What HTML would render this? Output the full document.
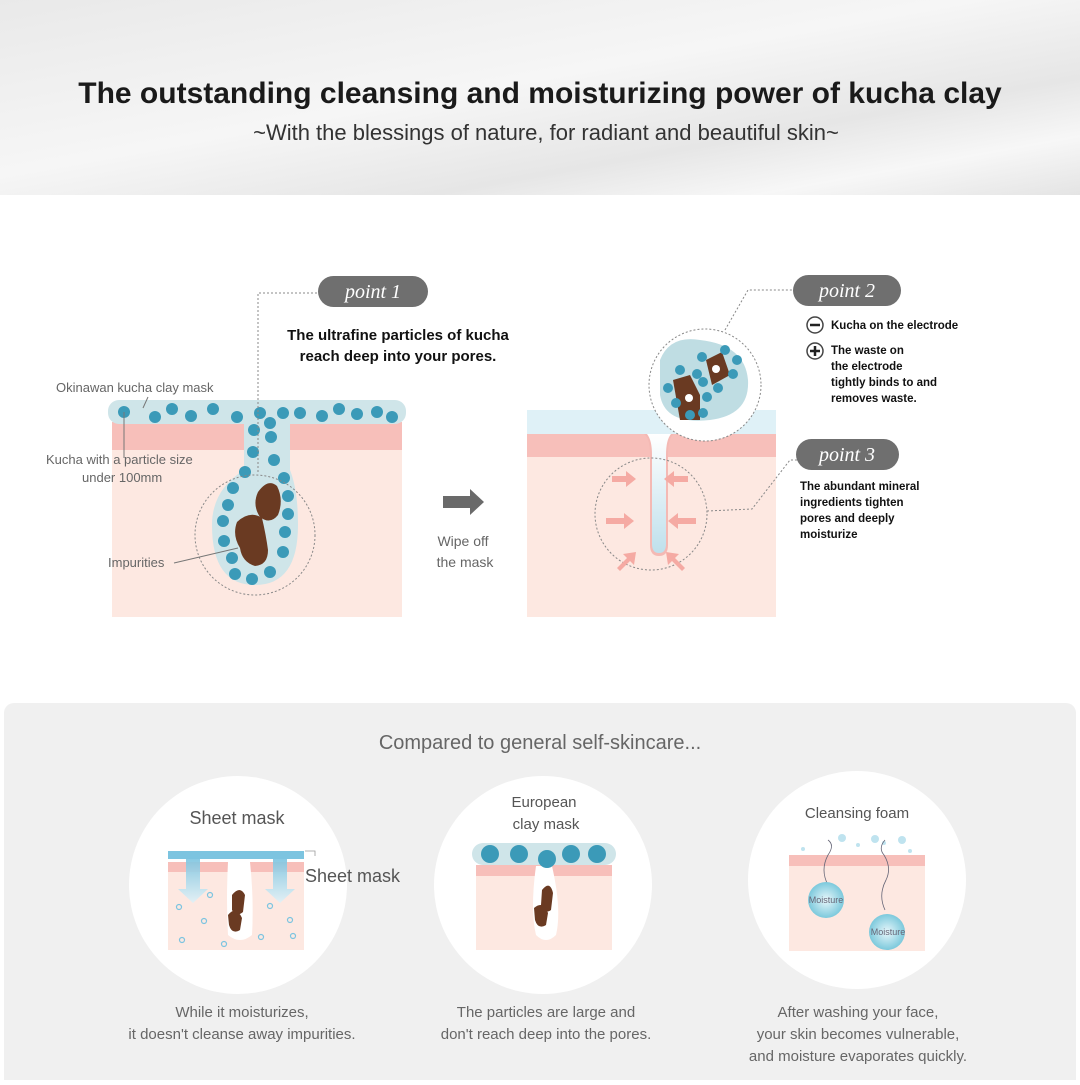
<!DOCTYPE html>
<html><head><meta charset="utf-8"><style>
body{margin:0;width:1080px;height:1080px;overflow:hidden;background:#fff;font-family:"Liberation Sans",sans-serif}
</style></head><body>
<svg width="1080" height="1080" viewBox="0 0 1080 1080" xmlns="http://www.w3.org/2000/svg" font-family="Liberation Sans, sans-serif">
<defs>
<linearGradient id="hd" x1="0" y1="0" x2="1" y2="1">
<stop offset="0" stop-color="#e9e9e9"/><stop offset="0.45" stop-color="#f6f6f6"/><stop offset="0.7" stop-color="#e6e6e6"/><stop offset="0.85" stop-color="#f7f7f7"/><stop offset="1" stop-color="#e4e4e4"/>
</linearGradient>
<linearGradient id="pore" x1="0" y1="0" x2="0" y2="1"><stop offset="0" stop-color="#ffffff"/><stop offset="1" stop-color="#bfe0ec"/></linearGradient>
<radialGradient id="drop"><stop offset="0" stop-color="#e8f7fb"/><stop offset="1" stop-color="#7cc9dc"/></radialGradient>
<linearGradient id="sheetArrow" x1="0" y1="0" x2="0" y2="1"><stop offset="0" stop-color="#7cc4e0"/><stop offset="1" stop-color="#e0f1f7"/></linearGradient>
</defs>
<rect width="1080" height="195" fill="url(#hd)"/>
<text x="540" y="103" text-anchor="middle" font-size="30" font-weight="bold" fill="#1a1a1a">The outstanding cleansing and moisturizing power of kucha clay</text>
<text x="546" y="140" text-anchor="middle" font-size="22" fill="#333">~With the blessings of nature, for radiant and beautiful skin~</text>

<!-- LEFT DIAGRAM -->
<rect x="112" y="422" width="290" height="195" fill="#fde8e1"/>
<rect x="112" y="422" width="290" height="28" fill="#f7bfba"/>
<rect x="108" y="400" width="298" height="24" rx="11" fill="#cfe5e9"/>
<path d="M244 420 L244 470 Q212 490 212 525 Q212 585 255 585 Q298 585 298 525 Q298 490 290 470 L290 420 Z" fill="#cfe5e9"/>
<g fill="#3b9ab8">
<circle cx="124" cy="412" r="6"/><circle cx="155" cy="417" r="6"/><circle cx="172" cy="409" r="6"/><circle cx="191" cy="416" r="6"/><circle cx="213" cy="409" r="6"/><circle cx="237" cy="417" r="6"/><circle cx="260" cy="413" r="6"/><circle cx="283" cy="413" r="6"/><circle cx="300" cy="413" r="6"/><circle cx="322" cy="416" r="6"/><circle cx="339" cy="409" r="6"/><circle cx="357" cy="414" r="6"/><circle cx="377" cy="412" r="6"/><circle cx="392" cy="417" r="6"/>
<circle cx="270" cy="423" r="6"/><circle cx="254" cy="430" r="6"/><circle cx="271" cy="437" r="6"/><circle cx="253" cy="452" r="6"/><circle cx="274" cy="460" r="6"/><circle cx="245" cy="472" r="6"/><circle cx="284" cy="478" r="6"/><circle cx="233" cy="488" r="6"/><circle cx="288" cy="496" r="6"/><circle cx="228" cy="505" r="6"/><circle cx="288" cy="514" r="6"/><circle cx="223" cy="521" r="6"/><circle cx="285" cy="532" r="6"/><circle cx="224" cy="541" r="6"/><circle cx="283" cy="552" r="6"/><circle cx="232" cy="558" r="6"/><circle cx="235" cy="574" r="6"/><circle cx="252" cy="579" r="6"/><circle cx="270" cy="572" r="6"/>
</g>
<path d="M258 492 Q268 478 277 486 Q284 500 278 515 Q270 525 260 517 Q252 505 258 492Z" fill="#6a3a22"/>
<path d="M237 522 Q250 510 262 518 Q266 535 268 550 Q268 565 255 566 Q242 562 240 548 Q232 535 237 522Z" fill="#6a3a22"/>
<circle cx="255" cy="535" r="60" fill="none" stroke="#888" stroke-dasharray="2,2"/>
<path d="M258 472 L258 293 L320 293" fill="none" stroke="#888" stroke-dasharray="2,2"/>
<path d="M124 412 L124 458" stroke="#777" stroke-width="1"/>
<path d="M148 397 L143 408" stroke="#777"/>
<path d="M174 563 L238 548" stroke="#777"/>
<text x="56" y="392" font-size="13" fill="#666">Okinawan kucha clay mask</text>
<text x="46" y="464" font-size="13" fill="#666">Kucha with a particle size</text>
<text x="82" y="482" font-size="13" fill="#666">under 100mm</text>
<text x="108" y="567" font-size="13" fill="#666">Impurities</text>
<rect x="318" y="276" width="110" height="31" rx="15.5" fill="#6f6f6f"/>
<text x="373" y="298" text-anchor="middle" font-size="20" font-style="italic" fill="#fff" font-family="Liberation Serif, serif">point 1</text>
<text x="398" y="340" text-anchor="middle" font-size="15" font-weight="bold" fill="#111">The ultrafine particles of kucha</text>
<text x="398" y="361" text-anchor="middle" font-size="15" font-weight="bold" fill="#111">reach deep into your pores.</text>

<!-- arrow -->
<path d="M443 496 L470 496 L470 489 L484 502 L470 515 L470 508 L443 508Z" fill="#6a6a6a"/>
<text x="463" y="546" text-anchor="middle" font-size="14" fill="#666">Wipe off</text>
<text x="465" y="567" text-anchor="middle" font-size="14" fill="#666">the mask</text>

<!-- RIGHT DIAGRAM -->
<rect x="527" y="410" width="249" height="24" fill="#dff1f7"/>
<rect x="527" y="434" width="249" height="183" fill="#fde8e1"/>
<rect x="527" y="434" width="249" height="23" fill="#f7bfba"/>
<path d="M644 434 Q650 438 650 455 L650 545 Q650 556 659 556 Q668 556 668 545 L668 455 Q668 438 674 434Z" fill="#f4b9b4"/>
<path d="M647 434 Q652 440 652 455 L652 544 Q652 553 659 553 Q666 553 666 544 L666 455 Q666 440 671 434Z" fill="url(#pore)"/>
<circle cx="651" cy="514" r="56" fill="none" stroke="#888" stroke-dasharray="2,2"/>
<g fill="#f5aaa3">
<path d="M612 476 h14 v-5 l10 8 l-10 8 v-5 h-14z"/>
<path d="M688 476 h-14 v-5 l-10 8 l10 8 v-5 h14z"/>
<path d="M606 518 h18 v-5 l10 8 l-10 8 v-5 h-18z"/>
<path d="M696 518 h-18 v-5 l-10 8 l10 8 v-5 h18z"/>
<path d="M617 568 l10 -10 l-4 -4 l13 -2 l-2 13 l-4 -4 l-10 10z"/>
<path d="M685 568 l-10 -10 l4 -4 l-13 -2 l2 13 l4 -4 l10 10z"/>
</g>
<circle cx="705" cy="385" r="56" fill="#fff" stroke="#888" stroke-dasharray="2,2"/>
<path d="M660 360 Q670 335 700 340 Q745 345 748 380 Q750 415 710 420 Q665 425 660 395Z" fill="#bfdde3"/>
<path d="M673 380 L690 375 L700 395 L700 420 L680 420Z" fill="#6a3a22"/>
<path d="M706 360 L722 352 L730 375 L712 385Z" fill="#6a3a22"/>
<g fill="#3b9ab8">
<circle cx="680" cy="370" r="5"/><circle cx="668" cy="388" r="5"/><circle cx="676" cy="403" r="5"/><circle cx="690" cy="415" r="5"/><circle cx="703" cy="413" r="5"/><circle cx="707" cy="397" r="5"/><circle cx="703" cy="382" r="5"/><circle cx="697" cy="374" r="5"/><circle cx="702" cy="357" r="5"/><circle cx="725" cy="350" r="5"/><circle cx="733" cy="374" r="5"/><circle cx="737" cy="360" r="5"/><circle cx="718" cy="388" r="5"/>
</g>
<circle cx="689" cy="398" r="4" fill="#fff"/><circle cx="716" cy="369" r="4" fill="#fff"/>
<path d="M725 330 L748 290 L795 290" fill="none" stroke="#888" stroke-dasharray="2,2"/>
<path d="M707 511 L752 509 L790 460 L800 460" fill="none" stroke="#888" stroke-dasharray="2,2"/>
<rect x="793" y="275" width="108" height="31" rx="15.5" fill="#6f6f6f"/>
<text x="847" y="297" text-anchor="middle" font-size="20" font-style="italic" fill="#fff" font-family="Liberation Serif, serif">point 2</text>
<circle cx="815" cy="325" r="8" fill="#fff" stroke="#444" stroke-width="1.5"/><path d="M810 325h10" stroke="#222" stroke-width="2.5"/>
<circle cx="815" cy="351" r="8" fill="#fff" stroke="#444" stroke-width="1.5"/><path d="M810 351h10M815 346v10" stroke="#222" stroke-width="2.5"/>
<g font-size="11.5" font-weight="bold" fill="#111">
<text x="831" y="329">Kucha on the electrode</text>
<text x="831" y="354">The waste on</text>
<text x="831" y="370">the electrode</text>
<text x="831" y="386">tightly binds to and</text>
<text x="831" y="402">removes waste.</text>
</g>
<rect x="796" y="439" width="103" height="31" rx="15.5" fill="#6f6f6f"/>
<text x="847" y="461" text-anchor="middle" font-size="20" font-style="italic" fill="#fff" font-family="Liberation Serif, serif">point 3</text>
<g font-size="11.5" font-weight="bold" fill="#111">
<text x="800" y="490">The abundant mineral</text>
<text x="800" y="506">ingredients tighten</text>
<text x="800" y="522">pores and deeply</text>
<text x="800" y="538">moisturize</text>
</g>

<!-- BOTTOM PANEL -->
<rect x="4" y="703" width="1072" height="390" rx="10" fill="#f0f0f0"/>
<text x="540" y="749" text-anchor="middle" font-size="20" fill="#666">Compared to general self-skincare...</text>
<circle cx="238" cy="885" r="109" fill="#fff"/>
<circle cx="543" cy="885" r="109" fill="#fff"/>
<circle cx="857" cy="880" r="109" fill="#fff"/>
<!-- sheet mask -->
<text x="237" y="824" text-anchor="middle" font-size="18" fill="#555">Sheet mask</text>
<rect x="168" y="862" width="136" height="88" fill="#fde8e1"/>
<rect x="168" y="862" width="136" height="10" fill="#f7bfba"/>
<rect x="168" y="851" width="136" height="8" fill="#7cc4e0"/>
<path d="M228 862 Q226 900 228 935 Q240 945 252 935 Q254 900 250 862Z" fill="#fff"/>
<path d="M232 895 Q240 885 245 895 L243 912 Q236 918 232 910Z M228 915 Q236 905 242 918 L240 930 Q232 935 229 925Z" fill="#6a3a22"/>
<path d="M186 859 h14 v30 h8 l-15 14 l-15 -14 h8z" fill="url(#sheetArrow)" opacity="0.9"/>
<path d="M273 859 h14 v30 h8 l-15 14 l-15 -14 h8z" fill="url(#sheetArrow)" opacity="0.9"/>
<g fill="none" stroke="#7cc4e0" stroke-width="1.2">
<circle cx="179" cy="907" r="2.5"/><circle cx="204" cy="921" r="2.5"/><circle cx="210" cy="895" r="2.5"/><circle cx="182" cy="940" r="2.5"/><circle cx="224" cy="944" r="2.5"/><circle cx="261" cy="937" r="2.5"/><circle cx="290" cy="920" r="2.5"/><circle cx="293" cy="936" r="2.5"/><circle cx="270" cy="906" r="2.5"/>
</g>
<path d="M305 851 h10 v5" fill="none" stroke="#999" stroke-width="0.8"/>
<text x="305" y="882" font-size="18" fill="#555">Sheet mask</text>
<text x="242" y="1017" text-anchor="middle" font-size="15" fill="#666">While it moisturizes,</text>
<text x="242" y="1039" text-anchor="middle" font-size="15" fill="#666">it doesn't cleanse away impurities.</text>
<!-- european -->
<text x="544" y="807" text-anchor="middle" font-size="15" fill="#555">European</text>
<text x="546" y="829" text-anchor="middle" font-size="15" fill="#555">clay mask</text>
<rect x="476" y="865" width="136" height="85" fill="#fde8e1"/>
<rect x="476" y="865" width="136" height="11" fill="#f7bfba"/>
<rect x="472" y="843" width="144" height="22" rx="11" fill="#cfe5e9"/>
<path d="M536 866 Q530 910 536 935 Q546 945 556 935 Q562 910 552 866Z" fill="#fff"/>
<g fill="#3b9ab8"><circle cx="490" cy="854" r="9"/><circle cx="519" cy="854" r="9"/><circle cx="547" cy="859" r="9"/><circle cx="571" cy="854" r="9"/><circle cx="597" cy="854" r="9"/></g>
<path d="M542 890 Q550 880 553 893 L551 910 Q544 915 541 905Z M534 908 Q543 900 548 913 L546 925 Q538 930 535 920Z" fill="#6a3a22"/>
<text x="546" y="1017" text-anchor="middle" font-size="15" fill="#666">The particles are large and</text>
<text x="546" y="1039" text-anchor="middle" font-size="15" fill="#666">don't reach deep into the pores.</text>
<!-- foam -->
<text x="857" y="818" text-anchor="middle" font-size="15" fill="#555">Cleansing foam</text>
<rect x="789" y="855" width="136" height="96" fill="#fde8e1"/>
<rect x="789" y="855" width="136" height="11" fill="#f7bfba"/>
<g fill="#bfe3ef"><circle cx="842" cy="838" r="4"/><circle cx="875" cy="839" r="4"/><circle cx="902" cy="840" r="4"/><circle cx="803" cy="849" r="2"/><circle cx="858" cy="845" r="2"/><circle cx="884" cy="843" r="2"/><circle cx="910" cy="851" r="2"/></g>
<path d="M828 885 Q820 870 828 855 Q835 845 828 840" fill="none" stroke="#667" stroke-width="0.8"/>
<path d="M885 910 Q878 895 886 880 Q892 868 884 855 Q878 848 885 840" fill="none" stroke="#667" stroke-width="0.8"/>
<circle cx="826" cy="900" r="18" fill="url(#drop)"/>
<circle cx="887" cy="932" r="18" fill="url(#drop)"/>
<text x="826" y="903" text-anchor="middle" font-size="9" fill="#667">Moisture</text>
<text x="888" y="935" text-anchor="middle" font-size="9" fill="#667">Moisture</text>
<text x="858" y="1017" text-anchor="middle" font-size="15" fill="#666">After washing your face,</text>
<text x="858" y="1039" text-anchor="middle" font-size="15" fill="#666">your skin becomes vulnerable,</text>
<text x="858" y="1061" text-anchor="middle" font-size="15" fill="#666">and moisture evaporates quickly.</text>
</svg>
</body></html>
